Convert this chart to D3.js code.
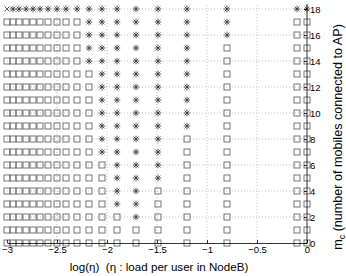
<!DOCTYPE html>
<html>
<head>
<meta charset="utf-8">
<script src="https://cdn.jsdelivr.net/npm/d3@7"></script>
<style>
  body { margin: 0; background: #fff; }
  svg { display: block; font-family: "Liberation Sans", Arial, sans-serif; }
</style>
</head>
<body>
<svg id="chart"></svg>
<script>
// x position of each column, log(eta)
const logEta = [-3.0, -2.94, -2.88, -2.81, -2.74, -2.67, -2.59, -2.50, -2.41, -2.30,
  -2.18, -2.05, -1.90, -1.71, -1.49, -1.20, -0.80, -0.10, 0.0];
// lowest m_c that is drawn as a star in each column (stars up to the top row)
const starFrom = [19, 18, 18, 18, 18, 18, 18, 18, 18, 18, 14, 7, 3, 2, 5, 9, 16, 18, 18];
const mValues = [0, 1, 2, 3, 4, 5, 6, 7, 8, 9, 10, 11, 12, 13, 14, 15, 16, 17, 18];
const crossPoints = [{ x: -3.0, m: 18 }];
const xTicks = [-3, -2.5, -2, -1.5, -1, -0.5, 0];
const yTicks = [0, 2, 4, 6, 8, 10, 12, 14, 16, 18];

const width = 346, height = 276;
const svg = d3.select("#chart").attr("width", width).attr("height", height);

const x = d3.scaleLinear().domain([-3, 0]).range([7, 307]);
const y = d3.scaleLinear().domain([0, 18]).range([243, 9]);

// dotted grid
const grid = svg.append("g")
  .attr("stroke", "#aaa")
  .attr("stroke-width", 0.7)
  .attr("stroke-dasharray", "1,2");

grid.selectAll("line.h")
  .data(yTicks.filter((d) => d > 0))
  .join("line")
  .attr("class", "h")
  .attr("x1", x(-3)).attr("x2", x(0))
  .attr("y1", (d) => y(d)).attr("y2", (d) => y(d));

grid.selectAll("line.v")
  .data(xTicks.filter((d) => d > -3 && d < 0))
  .join("line")
  .attr("class", "v")
  .attr("x1", (d) => x(d)).attr("x2", (d) => x(d))
  .attr("y1", y(0)).attr("y2", 4);

// one cell per column and m_c
const cells = [];
logEta.forEach((v, i) => {
  mValues.forEach((m) => {
    const isCross = crossPoints.some((c) => c.x === v && c.m === m);
    cells.push({ x: v, m, kind: isCross ? "cross" : m >= starFrom[i] ? "star" : "square" });
  });
});

const marks = svg.append("g").attr("fill", "none");

marks.selectAll("rect")
  .data(cells.filter((d) => d.kind === "square"))
  .join("rect")
  .attr("x", (d) => x(d.x) - 3)
  .attr("y", (d) => y(d.m) - 3)
  .attr("width", 6)
  .attr("height", 6)
  .attr("stroke", "#666")
  .attr("stroke-width", 0.9);

const s = 3.3, t = s * 0.72;
const starPath = `M${-s},0H${s}M0,${-s}V${s}M${-t},${-t}L${t},${t}M${-t},${t}L${t},${-t}`;
const crossPath = `M${-t},${-t}L${t},${t}M${-t},${t}L${t},${-t}`;

marks.selectAll("path.star")
  .data(cells.filter((d) => d.kind !== "square"))
  .join("path")
  .attr("class", "star")
  .attr("transform", (d) => `translate(${x(d.x)},${y(d.m)})`)
  .attr("d", (d) => (d.kind === "star" ? starPath : crossPath))
  .attr("stroke", "#333")
  .attr("stroke-width", 0.8);

// axes, ticks pointing inward
svg.append("g")
  .attr("transform", `translate(0,${y(0)})`)
  .call(d3.axisBottom(x).tickValues(xTicks).tickFormat((d) => (d === 0 ? "0" : d3.format("")(d)).replace("-", "\u2212"))
    .tickSizeInner(-3).tickSizeOuter(0).tickPadding(3));

const yAxis = svg.append("g")
  .attr("transform", `translate(${x(0)},0)`)
  .call(d3.axisRight(y).tickValues(yTicks).tickSizeInner(-3).tickSizeOuter(0).tickPadding(3));

yAxis.select(".domain").attr("d", `M0,${y(0)}V4`);

svg.selectAll(".tick text").attr("font-size", 9.5).attr("fill", "#000").attr("font-family", null);
svg.selectAll(".domain, .tick line").attr("stroke", "#000").attr("stroke-width", 0.8);

svg.append("text")
  .attr("x", 159)
  .attr("y", 271)
  .attr("text-anchor", "middle")
  .attr("font-size", 11.6)
  .style("white-space", "pre")
  .text("log(\u03b7)  (\u03b7 : load per user in NodeB)");

const yLabel = svg.append("text")
  .attr("transform", "translate(342,137) rotate(-90)")
  .attr("text-anchor", "middle")
  .attr("font-size", 12.6);
yLabel.append("tspan").text("m");
yLabel.append("tspan").attr("font-size", 9).attr("dy", 3).text("c");
yLabel.append("tspan").attr("dy", -3).text(" (number of mobiles connected to AP)");
</script>
</body>
</html>
